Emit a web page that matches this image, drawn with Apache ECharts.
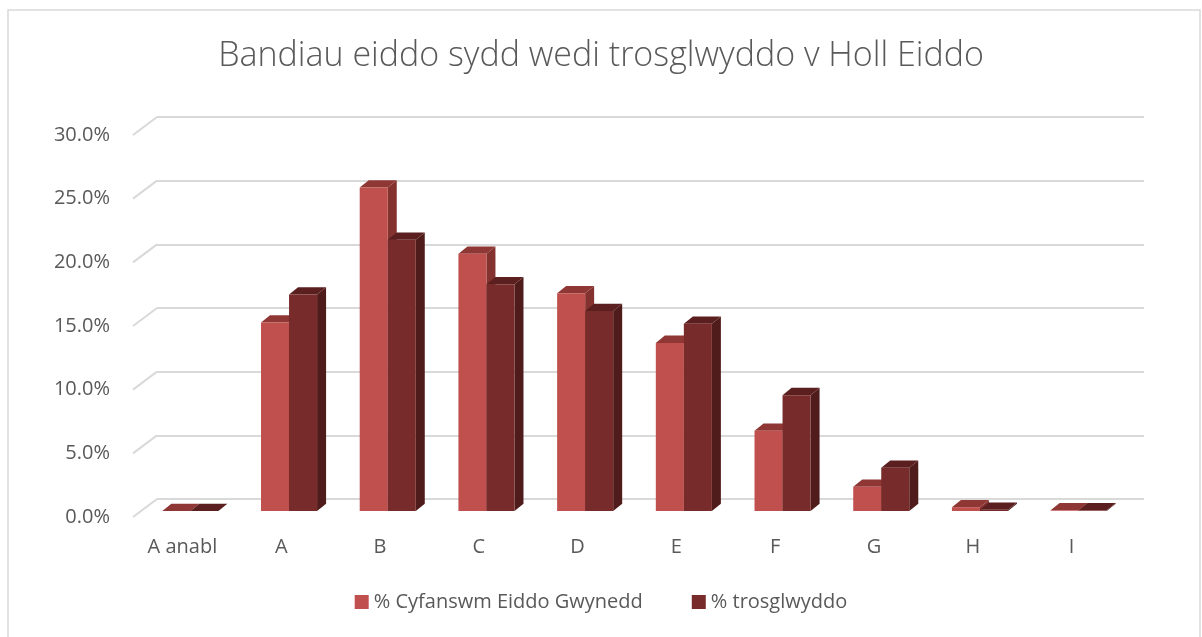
<!DOCTYPE html>
<html>
<head>
<meta charset="utf-8">
<script src="https://cdn.jsdelivr.net/npm/echarts@6/dist/echarts.min.js"></script>
<style>
html,body{margin:0;padding:0;background:#fff;}
#chart{width:1202px;height:637px;}
</style>
</head>
<body>
<div id="chart"></div>
<script>
var categories = ['A anabl','A','B','C','D','E','F','G','H','I'];
var seriesNames = ['% Cyfanswm Eiddo Gwynedd','% trosglwyddo'];
var cyfanswm = [0.0, 14.8, 25.4, 20.2, 17.1, 13.2, 6.3, 1.9, 0.3, 0.05];
var trosglwyddo = [0.0, 17.0, 21.3, 17.8, 15.7, 14.7, 9.1, 3.4, 0.1, 0.05];
var tickValues = [0, 5, 10, 15, 20, 25, 30];

var FONT = '"Open Sans", Lato, sans-serif';
var faceColors = [
  {front:'#C0504D', top:'#8F3735', side:'#843230'},
  {front:'#772B2A', top:'#5A1F1E', side:'#4F1C1B'}
];
var DX = 9, DY = -7.3;     // bar depth projection
var WX = -24, WY = 18;     // wall-to-front projection

var chart = echarts.init(document.getElementById('chart'));

function barRenderer(sIdx){
  return function(params, api){
    var idx = api.value(0);
    var val = api.value(1);
    var top = api.coord([idx, val]);
    var base = api.coord([idx, 0]);
    var band = api.size([1, 0])[0];
    var w = band * 0.284;
    var x0 = sIdx === 0 ? top[0] - w : top[0];
    var x1 = x0 + w;
    var yt = top[1], yb = base[1];
    var c = faceColors[sIdx];
    return {
      type:'group',
      children:[
        {type:'polygon', shape:{points:[[x1,yb],[x1+DX,yb+DY],[x1+DX,yt+DY],[x1,yt]]}, style:{fill:c.side}},
        {type:'polygon', shape:{points:[[x0,yt],[x0+DX,yt+DY],[x1+DX,yt+DY],[x1,yt]]}, style:{fill:c.top}},
        {type:'rect', shape:{x:x0, y:yt, width:w, height:Math.max(yb-yt,0)}, style:{fill:c.front}}
      ]
    };
  };
}

var option = {
  animation:false,
  backgroundColor:'#ffffff',
  textStyle:{fontFamily:FONT},
  title:{
    text:'Bandiau eiddo sydd wedi trosglwyddo v Holl Eiddo',
    left:'center', top:34,
    textStyle:{fontFamily:FONT, fontWeight:300, fontSize:34, color:'#595959'}
  },
  legend:{
    bottom:20, left:'center',
    itemWidth:14, itemHeight:14, itemGap:49,
    icon:'rect',
    textStyle:{fontSize:20, color:'#595959', fontFamily:FONT},
    data:seriesNames
  },
  graphic:[{type:'rect', shape:{x:8, y:10, width:1192, height:640}, style:{fill:'none', stroke:'#d9d9d9', lineWidth:1.5}, silent:true}],
  grid:[
    {left:157, width:987, top:117, height:382},
    {left:133, width:988, top:135, height:382},
    {left:141, width:987, top:129, height:382}
  ],
  xAxis:[
    {gridIndex:0, type:'category', data:categories, show:false},
    {gridIndex:1, type:'category', data:categories,
      axisLine:{show:false}, axisTick:{show:false},
      axisLabel:{margin:20, fontSize:20, color:'#595959', fontFamily:FONT}},
    {gridIndex:2, type:'category', data:categories, show:false}
  ],
  yAxis:[
    {gridIndex:0, type:'value', min:0, max:30, interval:5,
      axisLine:{show:false}, axisTick:{show:false}, axisLabel:{show:false},
      splitLine:{lineStyle:{color:'#d9d9d9', width:2}}},
    {gridIndex:1, type:'value', min:0, max:30, interval:5,
      axisLine:{show:false}, axisTick:{show:false}, splitLine:{show:false},
      axisLabel:{margin:23, fontSize:20, color:'#595959', fontFamily:FONT,
        formatter:function(v){return v.toFixed(1)+'%';}}},
    {gridIndex:2, type:'value', min:0, max:30, interval:5, show:false, splitLine:{show:false}}
  ],
  series:[
    {
      type:'custom', name:'walls', xAxisIndex:0, yAxisIndex:0, silent:true, z:1,
      data:tickValues.map(function(v){return [0, v];}),
      renderItem:function(params, api){
        var p = api.coord([api.value(0), api.value(1)]);
        var band = api.size([1,0])[0];
        var bx = p[0] - band/2;
        return {type:'line', shape:{x1:bx, y1:p[1], x2:bx+WX, y2:p[1]+WY}, style:{stroke:'#d9d9d9', lineWidth:2}};
      }
    },
    {
      type:'custom', name:seriesNames[0], xAxisIndex:2, yAxisIndex:2, z:3,
      itemStyle:{color:faceColors[0].front},
      data:cyfanswm.map(function(v,i){return [i, v];}),
      renderItem:barRenderer(0)
    },
    {
      type:'custom', name:seriesNames[1], xAxisIndex:2, yAxisIndex:2, z:4,
      itemStyle:{color:faceColors[1].front},
      data:trosglwyddo.map(function(v,i){return [i, v];}),
      renderItem:barRenderer(1)
    }
  ]
};
chart.setOption(option);
</script>
</body>
</html>
